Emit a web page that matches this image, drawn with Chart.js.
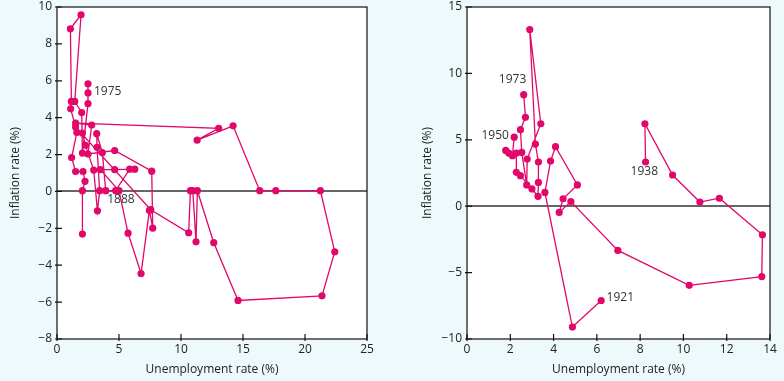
<!DOCTYPE html>
<html>
<head>
<meta charset="utf-8">
<script src="https://cdn.jsdelivr.net/npm/chart.js@4"></script>
<style>
  html, body { margin: 0; padding: 0; background: #eef9fb; }
  .panel { position: absolute; top: 0; height: 381px; }
  #leftBox { left: 0; width: 390px; }
  #rightBox { left: 390px; width: 394px; }
</style>
</head>
<body>
<div class="panel" id="leftBox"><canvas id="left"></canvas></div>
<div class="panel" id="rightBox"><canvas id="right"></canvas></div>
<script>
// left panel: one long path (pre-1914, interwar, post-1945)
const leftUnemp = [2.05, 2.05, 2.26, 2.1, 1.5, 1.18, 1.6, 2.05, 2.3, 2.96, 3.26, 3.44, 3.23, 3.2, 3.66, 3.93, 4.73, 5.86, 6.27, 4.65, 3.5, 5.0, 5.73, 6.78, 7.45, 7.72, 7.64, 4.65, 2.5, 2.8, 1.5,
  13.04, 11.3, 14.2, 16.35, 17.64, 21.24, 22.4, 21.37, 14.6, 12.64, 11.32, 11.21, 10.95, 10.76, 10.62, 7.56,
  1.5, 1.1, 1.16, 1.08, 1.94, 1.43, 1.99, 2.05, 2.5, 2.5, 2.5];
const leftInfl = [-2.31, 0.04, 0.55, 1.08, 1.08, 1.84, 3.2, 3.17, 2.5, 1.16, -1.05, 0.04, 2.39, 3.13, 2.1, 0.04, 0.04, 1.21, 1.21, 1.18, 1.18, 0.04, -2.26, -4.45, -1.03, -1.99, 1.1, 2.22, 2.03, 3.6, 3.7,
  3.42, 2.78, 3.56, 0.04, 0.04, 0.04, -3.27, -5.66, -5.91, -2.78, 0.04, -2.73, 0.04, 0.04, -2.24, -0.99,
  3.5, 4.48, 4.88, 8.82, 9.58, 4.88, 4.28, 2.08, 4.76, 5.34, 5.84];

// right panel: 1921-1938 and post-1950
const rightUnempA = [6.2, 4.87, 3.6, 3.86, 4.09, 5.1, 4.44, 4.26, 4.8, 6.97, 10.27, 13.62, 13.65, 11.66, 10.76, 9.5, 8.22, 8.25];
const rightInflA = [-7.1, -9.1, 1.04, 3.4, 4.48, 1.6, 0.56, -0.47, 0.35, -3.33, -5.96, -5.3, -2.15, 0.6, 0.31, 2.35, 6.21, 3.33];
const rightUnempB = [2.18, 2.1, 1.79, 1.93, 2.28, 2.28, 2.47, 3.0, 3.28, 3.3, 3.3, 3.16, 2.9, 3.41, 2.78, 2.76, 2.53, 2.47, 2.7, 2.62];
const rightInflB = [5.2, 3.8, 4.2, 4.0, 4.0, 2.55, 2.3, 1.3, 0.74, 1.79, 3.33, 4.68, 13.3, 6.21, 3.55, 1.6, 4.05, 5.76, 6.69, 8.4];

const leftNotes = [{ text: '1975', x: 2.98, y: 5.4 }, { text: '1888', x: 4.05, y: -0.45 }];
const rightNotes = [{ text: '1973', x: 1.47, y: 9.52 }, { text: '1950', x: 0.67, y: 5.31 }, { text: '1938', x: 7.56, y: 2.62 }, { text: '1921', x: 6.45, y: -6.9 }];

const leftTicksX = [0, 5, 10, 15, 20, 25];
const leftTicksY = [-8, -6, -4, -2, 0, 2, 4, 6, 8, 10];
const rightTicksX = [0, 2, 4, 6, 8, 10, 12, 14];
const rightTicksY = [-10, -5, 0, 5, 10, 15];

const PINK = '#e2076a';
const FONT = "'Open Sans', 'Noto Sans', sans-serif";
Chart.defaults.font.family = FONT;
Chart.defaults.color = '#222';

function pts(xs, ys) {
  return xs.map((x, i) => ({ x: x, y: ys[i] }));
}

function series(xs, ys) {
  return {
    data: pts(xs, ys),
    showLine: true,
    borderColor: PINK,
    backgroundColor: PINK,
    borderWidth: 1.3,
    pointRadius: 3.6,
    pointHoverRadius: 3.6,
    pointBorderWidth: 0
  };
}

const minus = v => (v < 0 ? '\u2212' + Math.abs(v) : '' + v);

// white plot area, frame, inside tick marks, year notes
function panelPlugin(notes) {
  return {
    id: 'panel',
    beforeDraw(chart) {
      const { ctx, chartArea: a } = chart;
      ctx.save();
      ctx.fillStyle = '#fff';
      ctx.fillRect(a.left, a.top, a.width, a.height);
      ctx.restore();
    },
    afterDraw(chart) {
      const { ctx, chartArea: a, scales } = chart;
      ctx.save();
      ctx.strokeStyle = '#111';
      ctx.lineWidth = 1.2;
      ctx.strokeRect(a.left, a.top, a.width, a.height);
      ctx.beginPath();
      scales.x.ticks.forEach(t => {
        const px = scales.x.getPixelForValue(t.value);
        ctx.moveTo(px, a.bottom + 2);
        ctx.lineTo(px, a.bottom - 5);
      });
      scales.y.ticks.forEach(t => {
        const py = scales.y.getPixelForValue(t.value);
        ctx.moveTo(a.left - 2, py);
        ctx.lineTo(a.left + 5, py);
      });
      ctx.stroke();
      ctx.fillStyle = '#333';
      ctx.font = '12px ' + FONT;
      ctx.textAlign = 'left';
      ctx.textBaseline = 'middle';
      notes.forEach(n => {
        ctx.fillText(n.text, scales.x.getPixelForValue(n.x), scales.y.getPixelForValue(n.y));
      });
      ctx.restore();
    }
  };
}

function makeOptions(xr, yr, xTicks, yTicks, padLeft, yWidth, padRight) {
  return {
    responsive: true,
    maintainAspectRatio: false,
    animation: false,
    layout: { padding: { left: padLeft, right: padRight, top: 7, bottom: 0 } },
    plugins: { legend: { display: false }, tooltip: { enabled: false } },
    scales: {
      x: {
        type: 'linear',
        min: xr[0],
        max: xr[1],
        afterBuildTicks: s => { s.ticks = xTicks.map(v => ({ value: v })); },
        afterFit: s => { s.height = 42; s.paddingLeft = 0; s.paddingRight = 0; },
        ticks: { padding: 3, font: { size: 12 }, color: '#222', callback: minus },
        grid: { display: false, drawTicks: false },
        border: { display: false },
        title: { display: true, text: 'Unemployment rate (%)', font: { size: 12 }, color: '#222', padding: { top: 2, bottom: 4 } }
      },
      y: {
        type: 'linear',
        min: yr[0],
        max: yr[1],
        afterBuildTicks: s => { s.ticks = yTicks.map(v => ({ value: v })); },
        afterFit: s => { s.width = yWidth; s.paddingTop = 0; s.paddingBottom = 0; },
        ticks: { padding: 5, font: { size: 12 }, color: '#222', callback: minus },
        grid: {
          drawTicks: false,
          color: c => (c.tick && c.tick.value === 0 ? '#666' : 'rgba(0,0,0,0)'),
          lineWidth: 2
        },
        border: { display: false },
        title: { display: true, text: 'Inflation rate (%)', font: { size: 12 }, color: '#222', padding: { top: 4, bottom: 4 } }
      }
    }
  };
}

new Chart(document.getElementById('left'), {
  type: 'scatter',
  data: { datasets: [series(leftUnemp, leftInfl)] },
  options: makeOptions([0, 25], [-8, 10], leftTicksX, leftTicksY, 4, 53, 23),
  plugins: [panelPlugin(leftNotes)]
});

new Chart(document.getElementById('right'), {
  type: 'scatter',
  data: { datasets: [series(rightUnempA, rightInflA), series(rightUnempB, rightInflB)] },
  options: makeOptions([0, 14], [-10, 15], rightTicksX, rightTicksY, 26, 51, 14),
  plugins: [panelPlugin(rightNotes)]
});
</script>
</body>
</html>
